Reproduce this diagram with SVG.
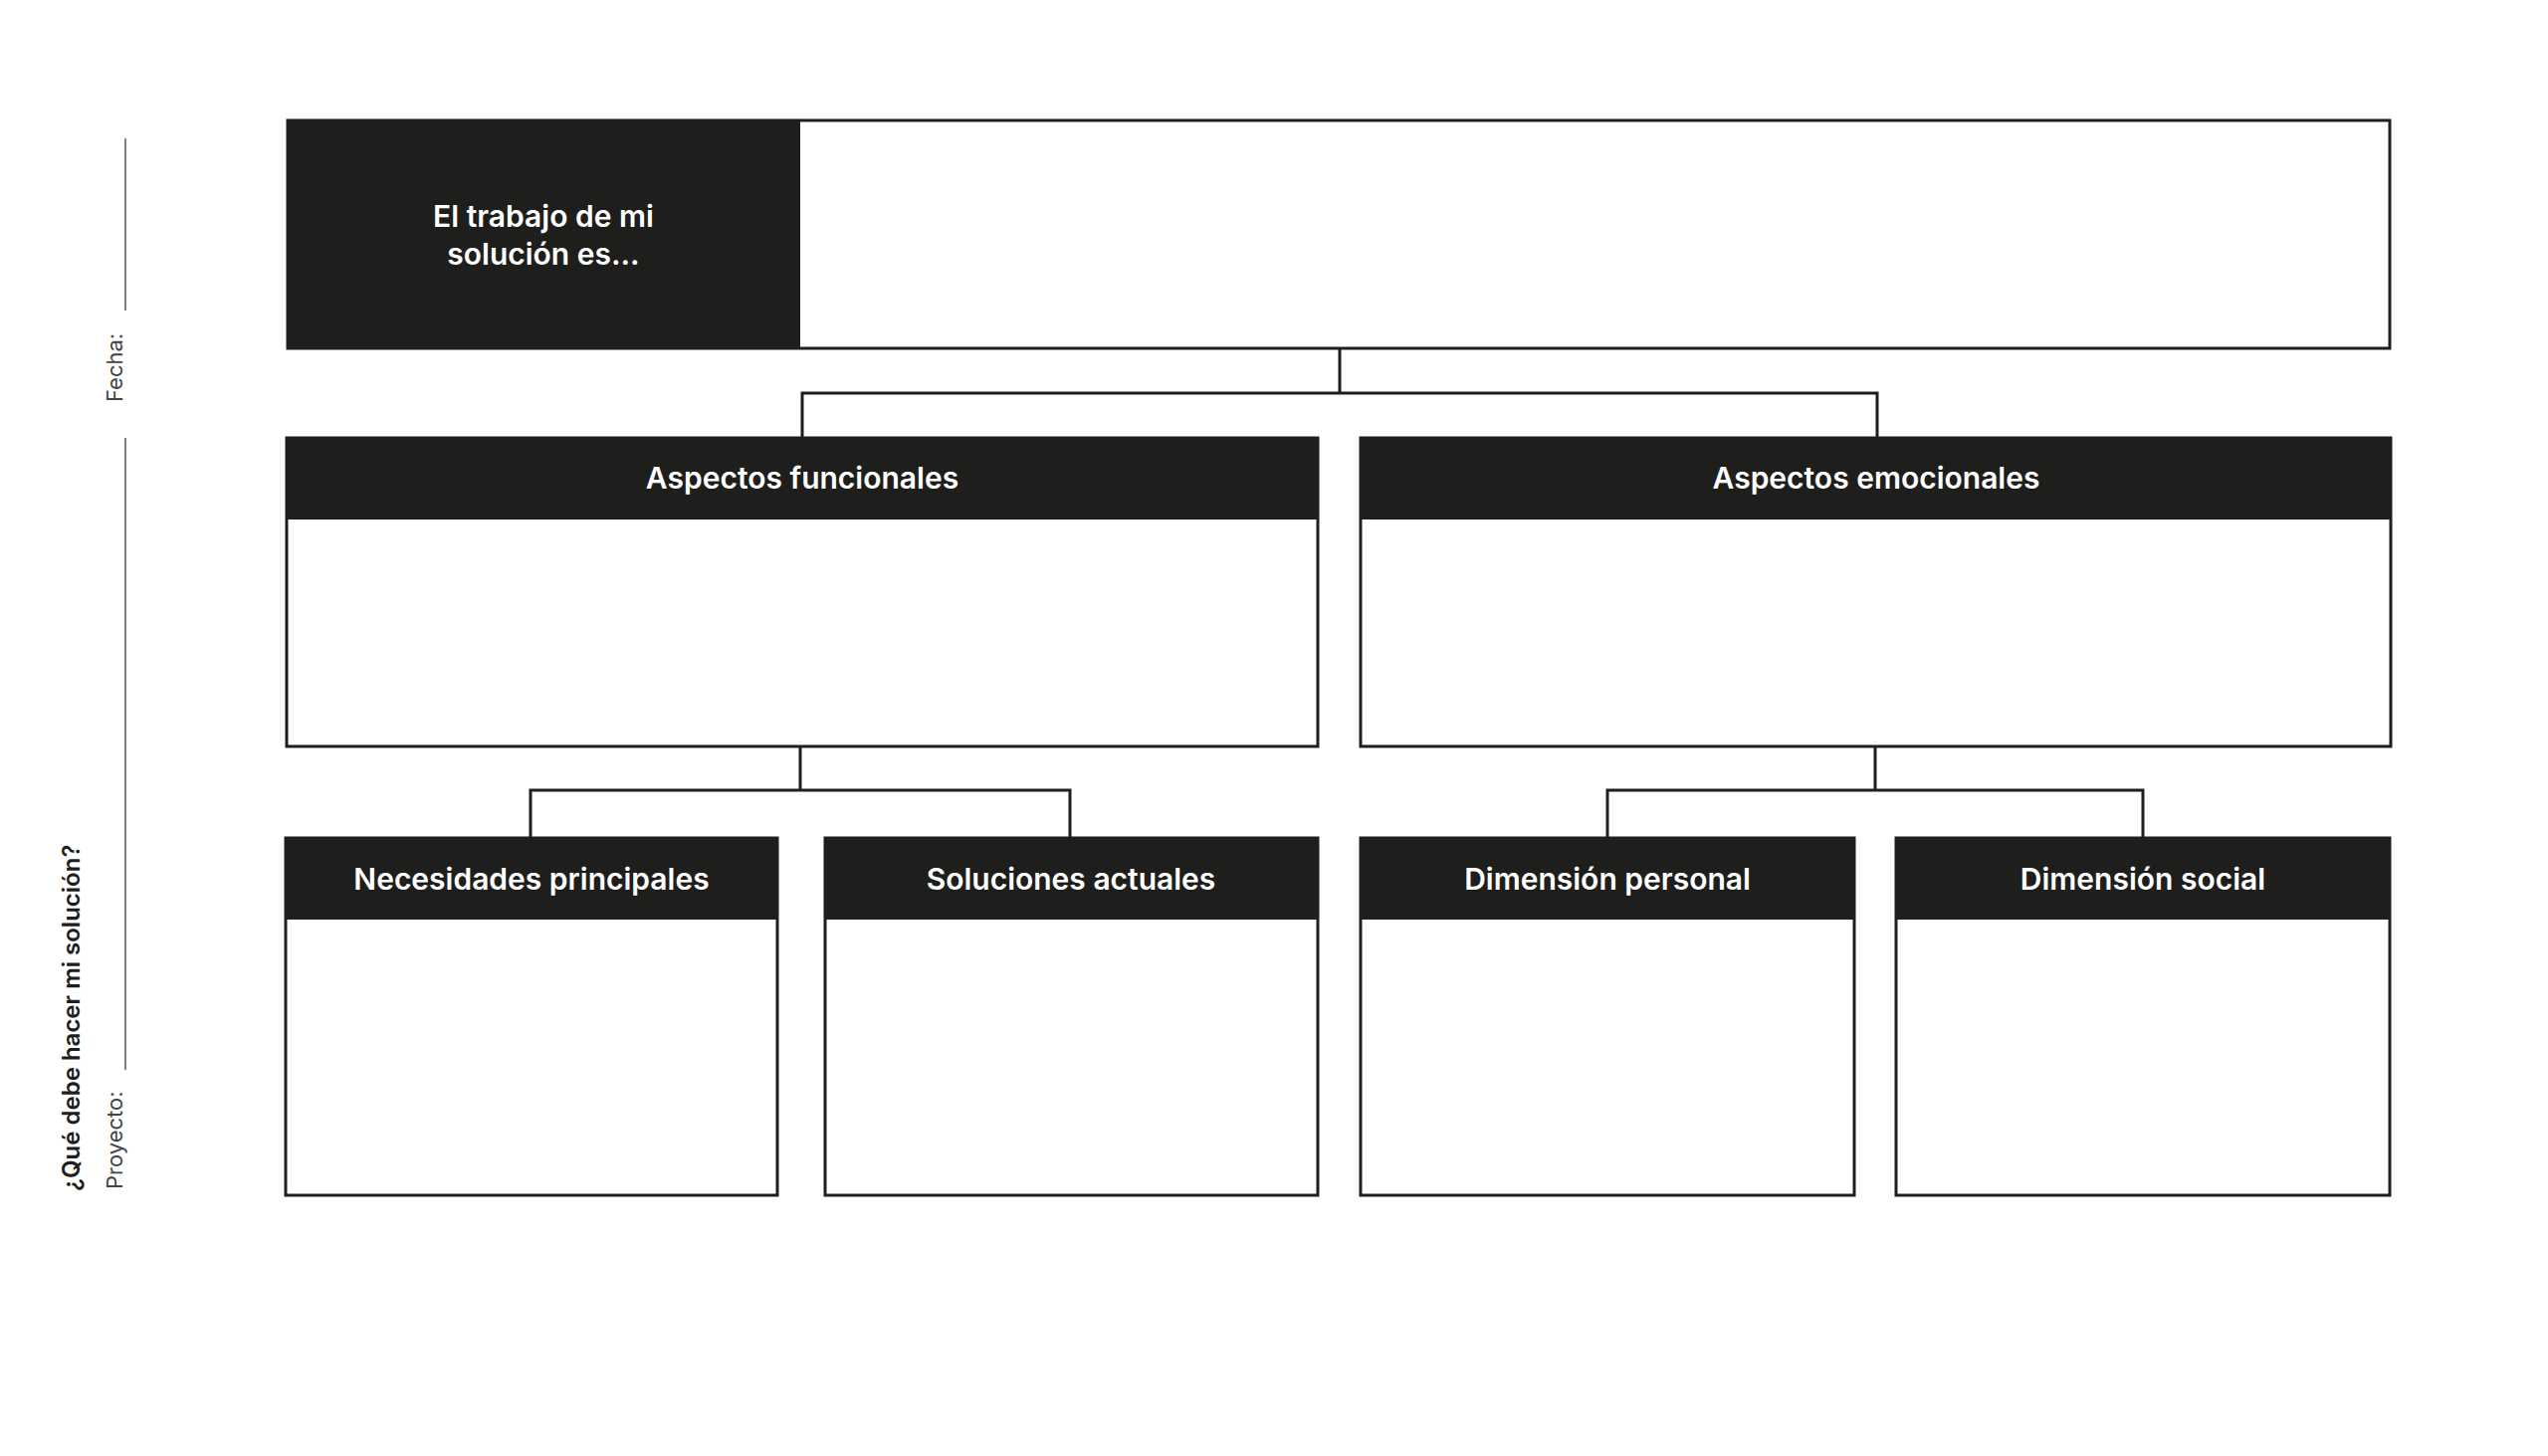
<svg xmlns="http://www.w3.org/2000/svg" width="2560" height="1463" viewBox="0 0 2560 1463">
<style>
.box{fill:#fff;stroke:#1e1e1c;stroke-width:3}
.hd{fill:#1e1e1c}
.t{font-family:Inter,"Open Sans",sans-serif;font-weight:600;font-size:30px;fill:#fff;text-anchor:middle}
.c{fill:none;stroke:#1e1e1c;stroke-width:3}
.side{font-family:Inter,"Open Sans",sans-serif;font-size:22px;fill:#444}
.ln{stroke:#555;stroke-width:1.5}
</style>
<rect width="2560" height="1463" fill="#fff"/>
<g id="side">
<line class="ln" x1="126" y1="139" x2="126" y2="312"/>
<line class="ln" x1="126" y1="440" x2="126" y2="1075"/>
<text class="side" transform="translate(123,404) rotate(-90)">Fecha:</text>
<text class="side" transform="translate(123,1195) rotate(-90)">Proyecto:</text>
<text class="side" style="font-weight:600;font-size:24px;fill:#1e1e1c" transform="translate(80,1197) rotate(-90)">¿Qué debe hacer mi solución?</text>
</g>
<g id="connectors">
<path class="c" d="M1346 350V395M806 440V395H1886V440"/>
<path class="c" d="M804 750V794M533 842V794H1075V842"/>
<path class="c" d="M1884 750V794M1615 842V794H2153V842"/>
</g>
<g id="top">
<rect class="box" x="289" y="121" width="2112" height="229"/>
<rect class="hd" x="289" y="121" width="515" height="229"/>
<text class="t" x="546" y="228">El trabajo de mi</text>
<text class="t" x="546" y="266">solución es...</text>
</g>
<g id="funcionales">
<rect class="box" x="288" y="440" width="1036" height="310"/>
<rect class="hd" x="288" y="440" width="1036" height="82"/>
<text class="t" x="806" y="491">Aspectos funcionales</text>
</g>
<g id="emocionales">
<rect class="box" x="1367" y="440" width="1035" height="310"/>
<rect class="hd" x="1367" y="440" width="1035" height="82"/>
<text class="t" x="1885" y="491">Aspectos emocionales</text>
</g>
<g id="necesidades">
<rect class="box" x="287" y="842" width="494" height="359"/>
<rect class="hd" x="287" y="842" width="494" height="82"/>
<text class="t" x="534" y="894">Necesidades principales</text>
</g>
<g id="soluciones">
<rect class="box" x="829" y="842" width="495" height="359"/>
<rect class="hd" x="829" y="842" width="495" height="82"/>
<text class="t" x="1076" y="894">Soluciones actuales</text>
</g>
<g id="personal">
<rect class="box" x="1367" y="842" width="496" height="359"/>
<rect class="hd" x="1367" y="842" width="496" height="82"/>
<text class="t" x="1615" y="894">Dimensión personal</text>
</g>
<g id="social">
<rect class="box" x="1905" y="842" width="496" height="359"/>
<rect class="hd" x="1905" y="842" width="496" height="82"/>
<text class="t" x="2153" y="894">Dimensión social</text>
</g>
</svg>
